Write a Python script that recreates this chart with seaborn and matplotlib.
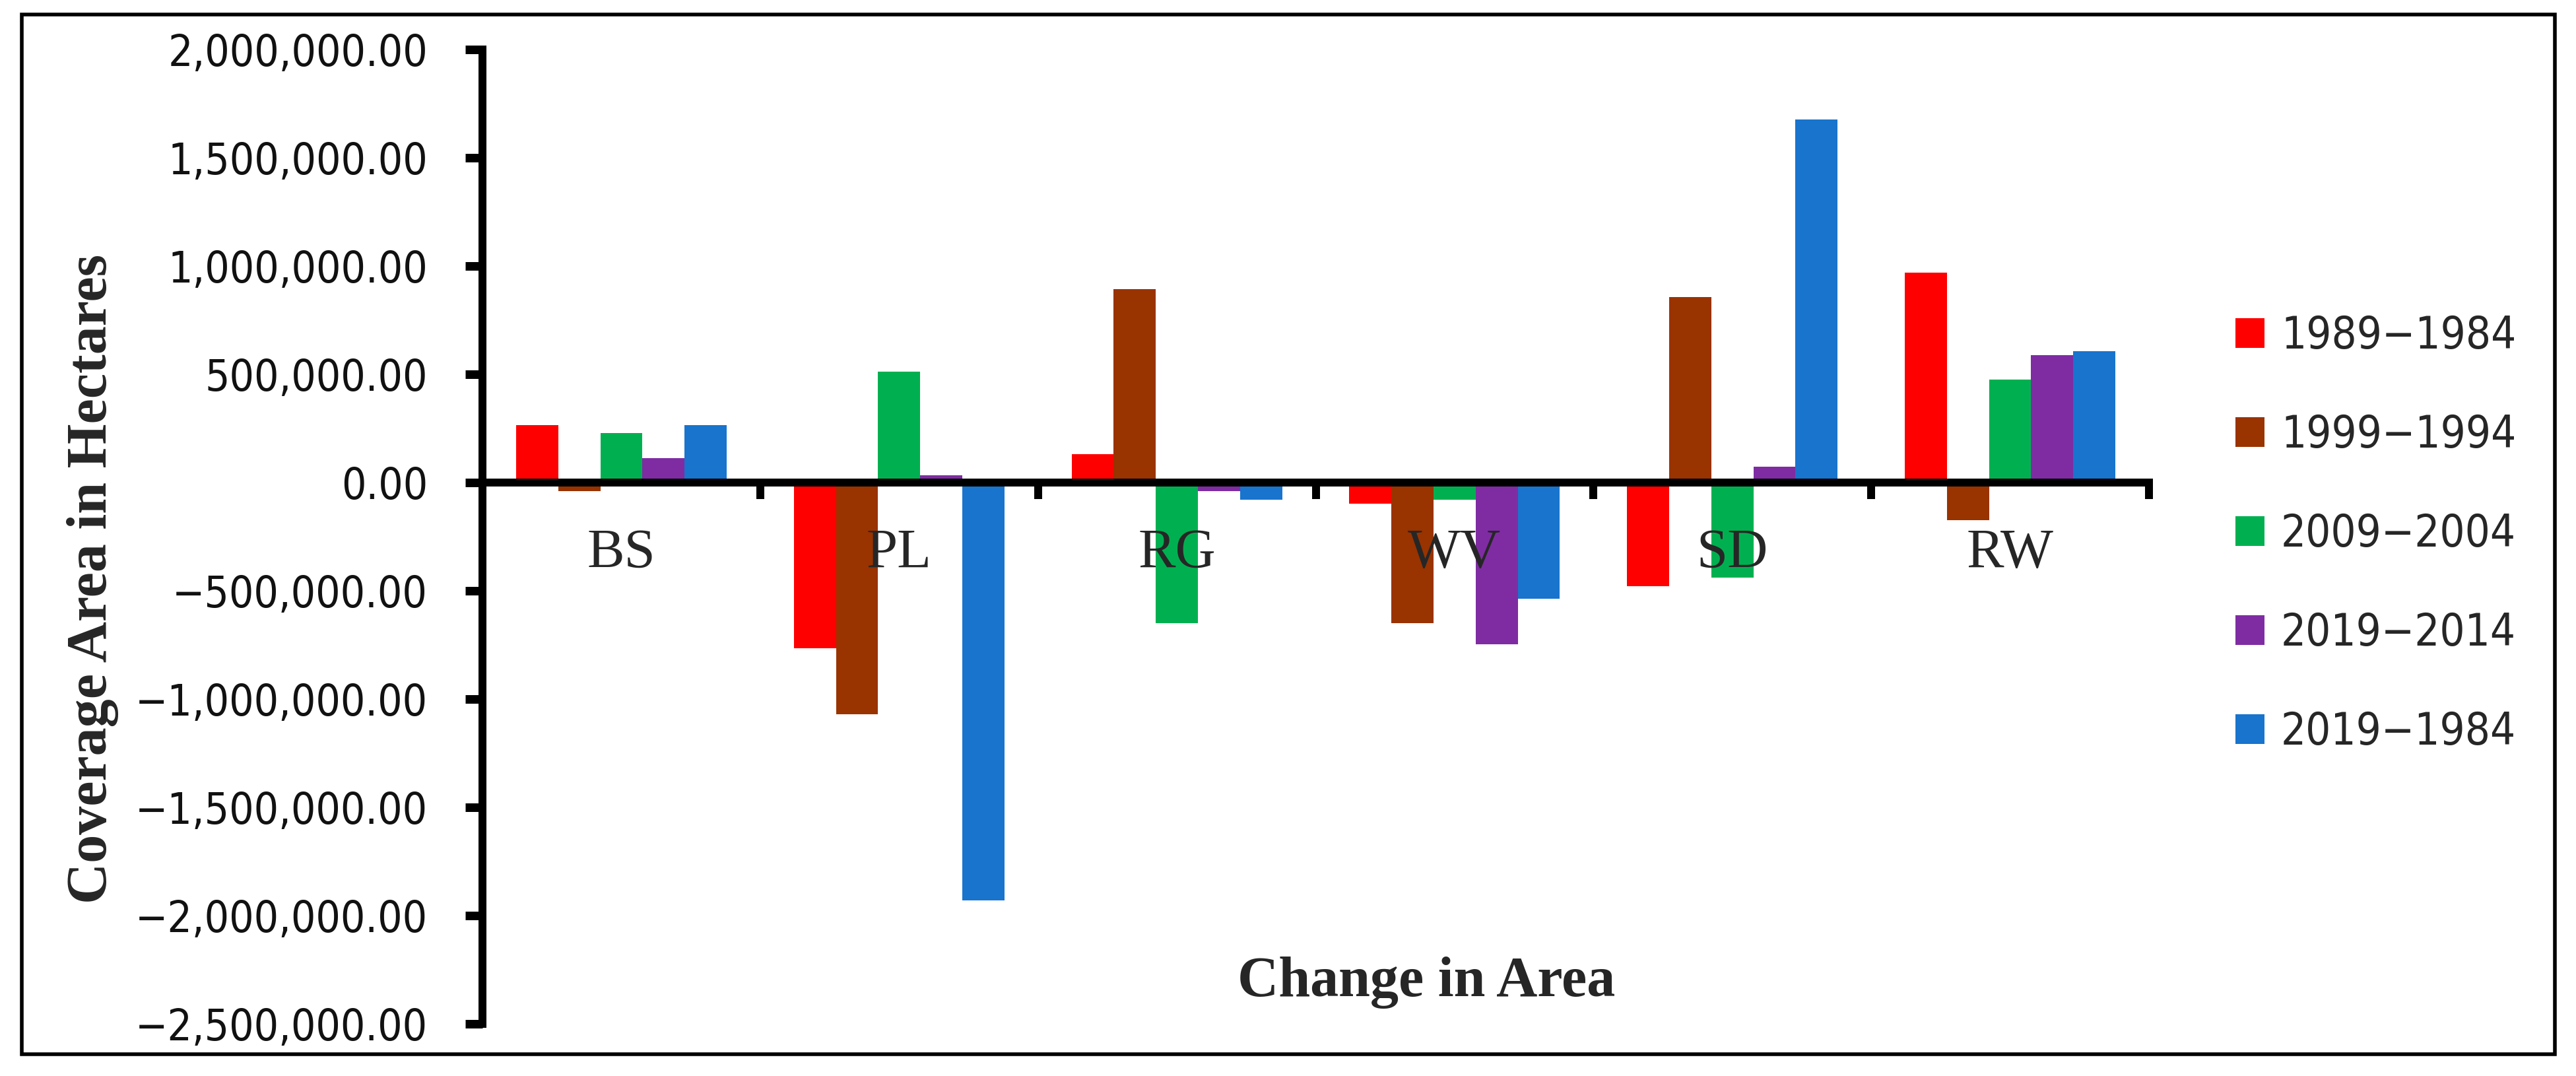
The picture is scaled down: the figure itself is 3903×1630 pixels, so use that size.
import os
import numpy as np
import pandas as pd
import matplotlib
matplotlib.use("Agg")
import matplotlib.pyplot as plt
from matplotlib import font_manager
from matplotlib.font_manager import FontProperties
from matplotlib.patches import Rectangle
from matplotlib.ticker import FuncFormatter, MultipleLocator
import seaborn as sns

# ---------------- data ----------------
categories = ["BS", "PL", "RG", "WV", "SD", "RW"]
periods = ["1989\u22121984", "1999\u22121994", "2009\u22122004", "2019\u22122014", "2019\u22121984"]
v_1989_1984 = [265000, -765000, 132000, -97000, -478000, 971000]
v_1999_1994 = [-39000, -1071000, 895000, -650000, 857000, -173000]
v_2009_2004 = [228000, 514000, -650000, -78000, -440000, 475000]
v_2019_2014 = [112000, 35000, -39000, -746000, 75000, 590000]
v_2019_1984 = [265000, -1929000, -78000, -536000, 1678000, 608000]
colors = ["#FF0000", "#993300", "#00B050", "#7F2CA3", "#1874CD"]

series = [v_1989_1984, v_1999_1994, v_2009_2004, v_2019_2014, v_2019_1984]
rows = []
for p, vals in zip(periods, series):
    for c, v in zip(categories, vals):
        rows.append({"Category": c, "Period": p, "Value": v})
df = pd.DataFrame(rows)

# ---------------- fonts ----------------
sns.set_style("white")
serif = "Liberation Serif"
plt.rcParams["font.family"] = [serif, "DejaVu Serif"]


def pick_narrow():
    prefs = ["liberationsansnarrow-regular", "notosans-condensed.", "notosans-condensedregular",
             "notosanscondensed-regular", "dejavusanscondensed.", "robotocondensed-regular",
             "opensans_condensed-regular", "opensanscondensed-regular"]
    files = [f.fname for f in font_manager.fontManager.ttflist]
    for p in prefs:
        for fn in files:
            if p in os.path.basename(fn).lower():
                return FontProperties(fname=fn)
    for f in font_manager.fontManager.ttflist:
        if f.stretch in ("condensed", "semi-condensed") and f.style == "normal" \
                and f.weight in (400, "normal", "regular") and "Sans" in f.name:
            return FontProperties(fname=f.fname)
    return FontProperties(family="Liberation Sans")


narrow_fp = pick_narrow()

W, H = 3903, 1630
DPI = 100
PX = 72 / DPI  # points per pixel
fig = plt.figure(figsize=(W / DPI, H / DPI), dpi=DPI)
fig.patch.set_facecolor("white")
renderer = fig.canvas.get_renderer()


def measure(text, size):
    fp = narrow_fp.copy()
    fp.set_size(size)
    t = fig.text(0, 0, text, fontproperties=fp)
    bb = t.get_window_extent(renderer)
    t.remove()
    return bb.width, bb.height


def fit_size(text, target_px, max_size):
    w, _ = measure(text, max_size)
    return min(max_size, max_size * target_px / w)


tick_size = fit_size("2,000,000.00", 393, 55)
leg_size = fit_size("1989\u22121984", 355, 56)

L, R, T, B = 731, 3256, 75.5, 1550.7
ax = fig.add_axes([L / W, 1 - B / H, (R - L) / W, (B - T) / H])

sns.barplot(data=df, x="Category", y="Value", hue="Period", order=categories,
            hue_order=periods, palette=colors, saturation=1, width=0.758,
            linewidth=0, ax=ax, legend=True)

ax.set_axisbelow(False)
ax.set_xlim(-0.5, 5.5)
ax.set_ylim(-2500000, 2000000)
ax.yaxis.set_major_locator(MultipleLocator(500000))
ax.yaxis.set_major_formatter(FuncFormatter(lambda v, p: f"{v:,.2f}".replace("-", "\u2212")))

for s in ["top", "right"]:
    ax.spines[s].set_visible(False)
ax.spines["left"].set_linewidth(12 * PX)
ax.spines["left"].set_color("black")
ax.spines["bottom"].set_position(("data", 0))
ax.spines["bottom"].set_linewidth(12 * PX)
ax.spines["bottom"].set_color("black")

ax.set_xticks(np.arange(-0.5, 6, 1))
ax.set_xticklabels([])
ax.set_xticks(np.arange(len(categories)), minor=True)
ax.set_xticklabels(categories, minor=True, fontsize=61, family=[serif, "DejaVu Serif"])
ax.tick_params(axis="x", which="major", direction="out", length=25 * PX, width=12 * PX,
               color="black", bottom=True)
ax.tick_params(axis="x", which="minor", length=0, pad=50)
ax.tick_params(axis="y", direction="out", length=26 * PX, width=13 * PX, color="black",
               pad=57 * PX, left=True)
for lab in ax.get_yticklabels():
    lab.set_fontproperties(narrow_fp)
    lab.set_fontsize(tick_size)
    lab.set_color("#111111")
for lab in ax.get_xticklabels(minor=True):
    lab.set_zorder(5)

ax.set_xlabel("")
ax.set_ylabel("")
ax.grid(False)

fig.text(2161 / W, 1 - 1488 / H, "Change in Area", ha="center", va="center",
         fontsize=62, fontweight="bold", family=[serif, "DejaVu Serif"])
fig.text(141 / W, 1 - 877 / H, "Coverage Area in Hectares", ha="center", va="center",
         rotation=90, fontsize=62, fontweight="bold", family=[serif, "DejaVu Serif"])

handles, labels = ax.get_legend_handles_labels()
if ax.legend_:
    ax.legend_.remove()
leg_fp = narrow_fp.copy()
leg_fp.set_size(leg_size)
fs_px = leg_size / PX
_, text_h = measure("1989\u22121984", leg_size)
row_h = max(text_h, 44)
leg = fig.legend(handles, labels, loc="upper left",
                 bbox_to_anchor=(3387 / W, 1 - (509 - row_h / 2) / H),
                 frameon=False, borderpad=0, borderaxespad=0, handlelength=44 / fs_px,
                 handleheight=44 / fs_px, handletextpad=25 / fs_px,
                 labelspacing=(150 - row_h) / fs_px, prop=leg_fp)

fig.add_artist(Rectangle((33 / W, 1 - 1597 / H), (3871 - 33) / W, (1597 - 22) / H,
                         transform=fig.transFigure, fill=False, lw=4.0, ec="black"))

fig.savefig("out.png", dpi=DPI, facecolor="white")
